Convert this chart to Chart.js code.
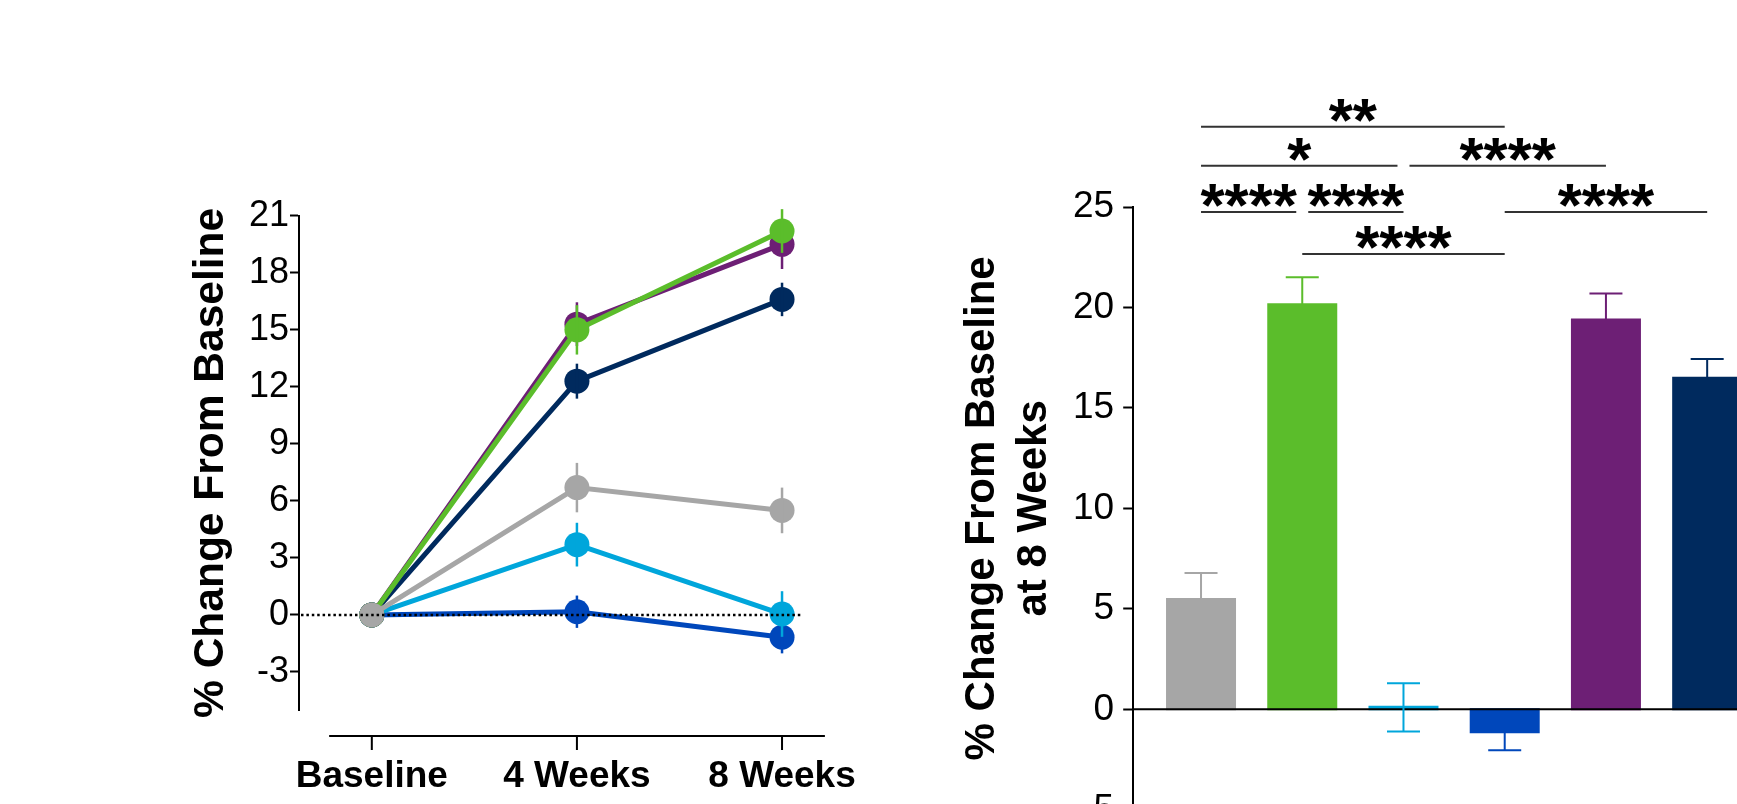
<!DOCTYPE html>
<html>
<head>
<meta charset="utf-8">
<title>% Change From Baseline</title>
<script src="https://cdn.jsdelivr.net/npm/chart.js@4.4.1/dist/chart.umd.min.js"></script>
<style>
  html, body { margin: 0; padding: 0; background: #fff; overflow: hidden; }
  #wrap { position: relative; width: 1737px; height: 804px; overflow: hidden; background: #fff; }
  #lineChart { position: absolute; left: 0; top: 0; }
  #barChart { position: absolute; left: 940px; top: 0; }
</style>
</head>
<body>
<div id="wrap">
  <canvas id="lineChart" width="900" height="804"></canvas>
  <canvas id="barChart" width="1000" height="900"></canvas>
</div>
<script>
// ---- data ----
const timepoints = ['Baseline', '4 Weeks', '8 Weeks'];
const lineTicks = [-3, 0, 3, 6, 9, 12, 15, 18, 21];
const barTicks = [-5, 0, 5, 10, 15, 20, 25];

// mean % change and error, per group, at each timepoint
const grayLine = [0, 6.7, 5.5];      const grayLineErr = [0, 1.3, 1.2];
const greenLine = [0, 15.0, 20.2];   const greenLineErr = [0, 1.3, 1.15];
const purpleLine = [0, 15.3, 19.5];  const purpleLineErr = [0, 1.15, 1.3];
const navyLine = [0, 12.3, 16.6];    const navyLineErr = [0, 0.92, 0.88];
const cyanLine = [0, 3.7, 0.05];     const cyanLineErr = [0, 1.15, 1.2];
const blueLine = [0, 0.17, -1.17];   const blueLineErr = [0, 0.85, 0.85];

// bars at 8 weeks: gray, green, cyan, blue, purple, navy
const barGroups = ['gray', 'green', 'cyan', 'blue', 'purple', 'navy'];
const barValues = [5.47, 20.13, 0.1, -1.11, 19.38, 16.48];
const barErrUp = [1.31, 1.38, 1.2, 0, 1.32, 0.96];
const barErrDown = [0, 0, 1.2, 0.93, 0, 0];

// significance brackets (bar index from -> to, height in y units)
const sigFrom = [0, 0, 2, 0, 1, 3, 1];
const sigTo = [3, 2, 4, 1, 2, 5, 3];
const sigLevel = [29.0, 27.05, 27.05, 24.75, 24.75, 24.75, 22.66];
const sigLabel = ['**', '*', '****', '****', '****', '****', '****'];

// ---- styles ----
const colors = {
  gray: '#A6A6A6', green: '#5BBD2B', cyan: '#00A6DB',
  blue: '#0047BB', purple: '#6D1F75', navy: '#002A5E'
};
const FONT = "'Liberation Sans', Arial, Helvetica, sans-serif";
Chart.defaults.font.family = FONT;
Chart.defaults.color = '#000';

// drawn top-most first
const lineSeries = [
  { name: 'gray', mean: grayLine, err: grayLineErr },
  { name: 'green', mean: greenLine, err: greenLineErr },
  { name: 'purple', mean: purpleLine, err: purpleLineErr },
  { name: 'navy', mean: navyLine, err: navyLineErr },
  { name: 'cyan', mean: cyanLine, err: cyanLineErr },
  { name: 'blue', mean: blueLine, err: blueLineErr }
];

// error bars on each line dataset, right after it is drawn
const lineErrors = {
  id: 'lineErrors',
  afterDatasetDraw(chart, args) {
    const ds = chart.data.datasets[args.index];
    const { ctx, scales: { x, y } } = chart;
    ctx.save();
    ctx.strokeStyle = ds.borderColor;
    ctx.lineWidth = 2.5;
    ds.err.forEach((e, i) => {
      if (!e) return;
      const px = x.getPixelForValue(i);
      ctx.beginPath();
      ctx.moveTo(px, y.getPixelForValue(ds.mean[i] + e));
      ctx.lineTo(px, y.getPixelForValue(ds.mean[i] - e));
      ctx.stroke();
    });
    ctx.restore();
  },
  afterDatasetsDraw(chart) {
    const { ctx, chartArea, scales: { x, y } } = chart;
    ctx.save();
    // dotted zero line over everything
    const y0 = y.getPixelForValue(0);
    ctx.strokeStyle = '#000';
    ctx.lineWidth = 2.5;
    ctx.setLineDash([2.5, 2.9]);
    ctx.beginPath();
    ctx.moveTo(chartArea.left + 2, y0);
    ctx.lineTo(x.getPixelForValue(2.1), y0);
    ctx.stroke();
    ctx.setLineDash([]);
    // detached x axis with ticks
    const ax = chartArea.bottom + 26;
    ctx.lineWidth = 2;
    ctx.beginPath();
    ctx.moveTo(x.getPixelForValue(-0.208), ax);
    ctx.lineTo(chartArea.right, ax);
    timepoints.forEach((t, i) => {
      const px = x.getPixelForValue(i);
      ctx.moveTo(px, ax);
      ctx.lineTo(px, ax + 14);
    });
    ctx.stroke();
    ctx.restore();
  }
};

new Chart(document.getElementById('lineChart'), {
  type: 'line',
  data: {
    datasets: lineSeries.map(s => ({
      label: s.name,
      data: s.mean.map((v, i) => ({ x: i, y: v })),
      mean: s.mean,
      err: s.err,
      borderColor: colors[s.name],
      backgroundColor: colors[s.name],
      borderWidth: 5,
      pointRadius: 12.5,
      pointBorderWidth: 0,
      pointHoverRadius: 12.5,
      tension: 0,
      clip: false
    }))
  },
  options: {
    responsive: false,
    animation: false,
    devicePixelRatio: 1,
    events: [],
    layout: { padding: { left: 186, top: 215.8, right: 75.1, bottom: 0 } },
    plugins: { legend: { display: false }, tooltip: { enabled: false } },
    scales: {
      x: {
        type: 'linear', min: -0.355, max: 2.209, offset: false,
        afterBuildTicks: s => { s.ticks = timepoints.map((t, i) => ({ value: i })); },
        afterFit: s => { s.height = 94; },
        ticks: {
          callback: v => timepoints[v],
          font: { size: 37, weight: 'bold' },
          color: '#000', padding: 36.5, maxRotation: 0, autoSkip: false
        },
        grid: { display: false },
        border: { display: false }
      },
      y: {
        min: -5, max: 21,
        afterBuildTicks: s => { s.ticks = lineTicks.map(v => ({ value: v })); },
        afterFit: s => { s.width = 113; },
        ticks: { font: { size: 36 }, color: '#000', padding: 1 },
        grid: { drawOnChartArea: false, tickLength: 9, tickWidth: 2, tickColor: '#000' },
        border: { display: true, color: '#000', width: 2 },
        title: {
          display: true, text: '% Change From Baseline',
          font: { size: 42.5, weight: 'bold' }, color: '#000', padding: 0
        }
      }
    }
  },
  plugins: [lineErrors]
});

// zero line, error bars and significance brackets for the bar chart
const barExtras = {
  id: 'barExtras',
  afterDatasetsDraw(chart) {
    const { ctx, chartArea, scales: { y } } = chart;
    const meta = chart.getDatasetMeta(0);
    ctx.save();
    const y0 = y.getPixelForValue(0);
    ctx.strokeStyle = '#000';
    ctx.lineWidth = 2;
    ctx.beginPath();
    ctx.moveTo(chartArea.left, y0);
    ctx.lineTo(chartArea.right, y0);
    ctx.stroke();
    meta.data.forEach((bar, i) => {
      ctx.strokeStyle = colors[barGroups[i]];
      const v = barValues[i];
      [[barErrUp[i], 1], [barErrDown[i], -1]].forEach(([e, dir]) => {
        if (!e) return;
        const yEnd = y.getPixelForValue(v + dir * e);
        ctx.beginPath();
        ctx.moveTo(bar.x, y.getPixelForValue(v));
        ctx.lineTo(bar.x, yEnd);
        ctx.moveTo(bar.x - 16.5, yEnd);
        ctx.lineTo(bar.x + 16.5, yEnd);
        ctx.stroke();
      });
    });
    ctx.restore();
  },
  afterDraw(chart) {
    const { ctx, scales: { x, y } } = chart;
    ctx.save();
    ctx.font = `bold 62px ${FONT}`;
    ctx.textAlign = 'center';
    ctx.textBaseline = 'alphabetic';
    const starDesc = ctx.measureText('*').actualBoundingBoxDescent;
    sigFrom.forEach((a, k) => {
      const b = sigTo[k];
      const shared = (idx, asStart) => sigLevel.some((lv, j) => j !== k && lv === sigLevel[k] &&
        (asStart ? sigFrom[j] === idx : sigTo[j] === idx));
      let x1 = x.getPixelForValue(a);
      let x2 = x.getPixelForValue(b);
      if (shared(a, false)) x1 += 6;
      if (shared(b, true)) x2 -= 6;
      const py = y.getPixelForValue(sigLevel[k]);
      ctx.strokeStyle = '#333';
      ctx.lineWidth = 2;
      ctx.beginPath();
      ctx.moveTo(x1, py);
      ctx.lineTo(x2, py);
      ctx.stroke();
      ctx.fillStyle = '#000';
      ctx.fillText(sigLabel[k], (x1 + x2) / 2, py - 5 - starDesc);
    });
    ctx.restore();
  }
};

new Chart(document.getElementById('barChart'), {
  type: 'bar',
  data: {
    datasets: [{
      label: '8 Weeks',
      data: barValues.map((v, i) => ({ x: i, y: v })),
      backgroundColor: barGroups.map(g => colors[g]),
      borderWidth: 0,
      barThickness: 67,
      inflateAmount: 1.5
    }]
  },
  options: {
    responsive: false,
    animation: false,
    devicePixelRatio: 1,
    events: [],
    layout: { padding: { left: 16.6, top: 207, right: 0, bottom: 90.2 } },
    plugins: { legend: { display: false }, tooltip: { enabled: false } },
    scales: {
      x: { type: 'linear', min: -0.67, max: 7.3, offset: false, display: false },
      y: {
        min: -5, max: 25,
        afterBuildTicks: s => { s.ticks = barTicks.map(v => ({ value: v })); },
        afterFit: s => { s.width = 176.6; },
        ticks: { font: { size: 37 }, color: '#000', padding: 9 },
        grid: {
          color: 'rgba(0,0,0,0)',
          tickLength: 10, tickWidth: 2, tickColor: '#000'
        },
        border: { display: true, color: '#000', width: 2 },
        title: {
          display: true, text: ['% Change From Baseline', 'at 8 Weeks'],
          font: { size: 42, weight: 'bold', lineHeight: 1.24 }, color: '#000', padding: 0
        }
      }
    }
  },
  plugins: [barExtras]
});
</script>
</body>
</html>
